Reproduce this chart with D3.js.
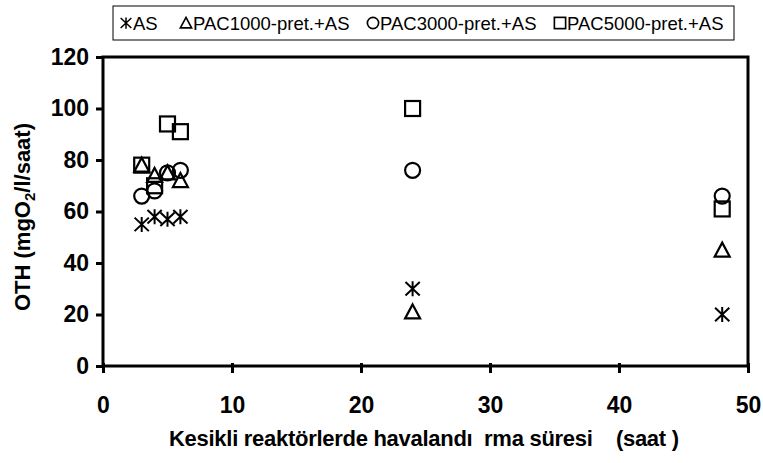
<!DOCTYPE html>
<html>
<head>
<meta charset="utf-8">
<script src="https://cdn.jsdelivr.net/npm/d3@7"></script>
<style>
  body { margin: 0; background: #fff; }
  text { font-family: "Liberation Sans", Arial, sans-serif; }
  .narrow { font-family: "Liberation Sans Narrow", "Arial Narrow", sans-serif; }
</style>
</head>
<body>
<div id="wrapper"></div>
<script>
const hours = [3, 4, 5, 6, 24, 48];
const asValues = [55, 58, 57, 58, 30, 20];
const pac1000Values = [78, 74, 75, 72, 21, 45];
const pac3000Values = [66, 68, 75, 76, 76, 66];
const pac5000Values = [78, 70, 94, 91, 100, 61];
const seriesNames = ["AS", "PAC1000-pret.+AS", "PAC3000-pret.+AS", "PAC5000-pret.+AS"];
const xTicks = [0, 10, 20, 30, 40, 50];
const yTicks = [0, 20, 40, 60, 80, 100, 120];

const series = [
  {name: seriesNames[0], shape: "star", values: asValues},
  {name: seriesNames[1], shape: "triangle", values: pac1000Values},
  {name: seriesNames[2], shape: "circle", values: pac3000Values},
  {name: seriesNames[3], shape: "square", values: pac5000Values}
];

const dimentions = {
  width: 763,
  height: 463,
  margin: {top: 57, right: 15, bottom: 97, left: 103}
};
dimentions.boundedWidth = dimentions.width - dimentions.margin.left - dimentions.margin.right;
dimentions.boundedHeight = dimentions.height - dimentions.margin.top - dimentions.margin.bottom;

const svg = d3.select("#wrapper")
  .append("svg")
  .attr("width", dimentions.width)
  .attr("height", dimentions.height);

const bounds = svg.append("g")
  .attr("transform", `translate(${dimentions.margin.left},${dimentions.margin.top})`);

const xScale = d3.scaleLinear().domain([0, 50]).range([0, dimentions.boundedWidth]);
const yScale = d3.scaleLinear().domain([0, 120]).range([dimentions.boundedHeight, 0]);

// marker drawing
function drawMarker(g, shape) {
  const s = 7.5;
  if (shape === "square") {
    g.append("rect").attr("x", -s).attr("y", -s).attr("width", 2 * s).attr("height", 2 * s)
      .attr("fill", "none").attr("stroke", "#000").attr("stroke-width", 2.2);
  } else if (shape === "circle") {
    g.append("circle").attr("r", s)
      .attr("fill", "none").attr("stroke", "#000").attr("stroke-width", 2.2);
  } else if (shape === "triangle") {
    g.append("path").attr("d", `M0,${-s}L${s},${s - 1}L${-s},${s - 1}Z`)
      .attr("fill", "none").attr("stroke", "#000").attr("stroke-width", 2.2);
  } else {
    g.append("path")
      .attr("d", `M0,${-s}V${s}M${-s * 0.95},${-s * 0.9}L${s * 0.95},${s * 0.9}M${-s * 0.95},${s * 0.9}L${s * 0.95},${-s * 0.9}`)
      .attr("fill", "none").attr("stroke", "#000").attr("stroke-width", 2);
  }
}

// axes
const yAxisGenerator = d3.axisLeft(yScale).tickValues(yTicks).tickSize(7).tickPadding(7);
const xAxisGenerator = d3.axisBottom(xScale).tickValues(xTicks).tickSize(7).tickPadding(24);

const yAxis = bounds.append("g").call(yAxisGenerator);
const xAxis = bounds.append("g")
  .attr("transform", `translate(0,${dimentions.boundedHeight})`)
  .call(xAxisGenerator);

[xAxis, yAxis].forEach(ax => {
  ax.select(".domain").remove();
  ax.selectAll("line").attr("stroke", "#000").attr("stroke-width", 3);
  ax.selectAll("text")
    .attr("class", "narrow")
    .attr("font-size", 23)
    .attr("font-weight", "bold")
    .attr("fill", "#000");
});
xAxis.selectAll(".tick line").attr("y1", -3);

// plot frame
bounds.append("rect")
  .attr("width", dimentions.boundedWidth)
  .attr("height", dimentions.boundedHeight)
  .attr("fill", "none")
  .attr("stroke", "#000")
  .attr("stroke-width", 3);

// points
series.forEach(sr => {
  sr.values.forEach((v, i) => {
    const g = bounds.append("g")
      .attr("transform", `translate(${xScale(hours[i])},${yScale(v)})`);
    drawMarker(g, sr.shape);
  });
});

// axis titles
svg.append("text")
  .attr("class", "narrow")
  .attr("transform", `translate(30,217) rotate(-90)`)
  .attr("text-anchor", "middle")
  .attr("font-size", 22)
  .attr("font-weight", "bold")
  .html('OTH (mgO<tspan font-size="15" dy="5">2</tspan><tspan dy="-5">/l/saat)</tspan>');

svg.append("text")
  .attr("class", "narrow")
  .attr("x", 424)
  .attr("y", 446)
  .attr("text-anchor", "middle")
  .attr("font-size", 22)
  .attr("font-weight", "bold")
  .attr("textLength", 510)
  .style("white-space", "pre")
  .text("Kesikli reaktörlerde havalandı  rma süresi    (saat )");

// legend
const legend = svg.append("g");
legend.append("rect")
  .attr("x", 113).attr("y", 6).attr("width", 621).attr("height", 34)
  .attr("fill", "#fff").attr("stroke", "#000").attr("stroke-width", 1);

const legendX = [126, 186, 373, 560];
series.forEach((sr, i) => {
  const g = legend.append("g").attr("transform", `translate(${legendX[i]},23)`);
  const m = g.append("g").attr("transform", "scale(0.75)");
  drawMarker(m, sr.shape);
  g.append("text")
    .attr("x", 7)
    .attr("y", 6.5)
    .attr("font-size", 18.5)
    .text(sr.name);
});
</script>
</body>
</html>
